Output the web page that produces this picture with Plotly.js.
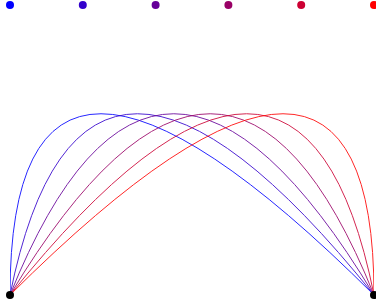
<!DOCTYPE html>
<html>
<head>
<meta charset="utf-8">
<script src="https://cdn.plot.ly/plotly-3.0.1.min.js"></script>
<style>html,body{margin:0;padding:0;background:#fff;}#chart{width:376px;height:307px;}</style>
</head>
<body>
<div id="chart"></div>
<script>
// Control-point x positions of each curve (also the top dots)
const controlX = [0, 0.2, 0.4, 0.6, 0.8, 1.0];
// Control-point height of each quadratic curve
const controlY = [1, 1, 1, 1, 1, 1];
// Height at which the top dots are drawn
const dotY = [0.8, 0.8, 0.8, 0.8, 0.8, 0.8];
// Curve end points (black dots)
const endX = [0, 1];
const endY = [0, 0];
// Colours, blue to red
const colors = ['#0000ff', '#3300cc', '#660099', '#990066', '#cc0033', '#ff0000'];

const shapes = controlX.map((cx, i) => ({
  type: 'path',
  xref: 'x', yref: 'y',
  path: `M ${endX[0]},${endY[0]} Q ${cx},${controlY[i]} ${endX[1]},${endY[1]}`,
  line: {color: colors[i], width: 1},
  opacity: 0.85,
  layer: 'below'
}));

const traces = [
  {
    x: controlX, y: dotY, type: 'scatter', mode: 'markers',
    marker: {color: colors, size: 8},
    cliponaxis: false, hoverinfo: 'skip'
  },
  {
    x: endX, y: endY, type: 'scatter', mode: 'markers',
    marker: {color: '#000000', size: 8},
    cliponaxis: false, hoverinfo: 'skip'
  }
];

const axis = {showgrid: false, zeroline: false, showticklabels: false, ticks: '', showline: false};
const layout = {
  width: 376, height: 307,
  margin: {l: 10, r: 2, t: 5, b: 12, pad: 0},
  paper_bgcolor: '#ffffff', plot_bgcolor: '#ffffff',
  showlegend: false,
  xaxis: Object.assign({range: [0, 1]}, axis),
  yaxis: Object.assign({range: [0, 0.8]}, axis),
  shapes: shapes
};
Plotly.newPlot('chart', traces, layout, {displayModeBar: false, staticPlot: true});
</script>
</body>
</html>
